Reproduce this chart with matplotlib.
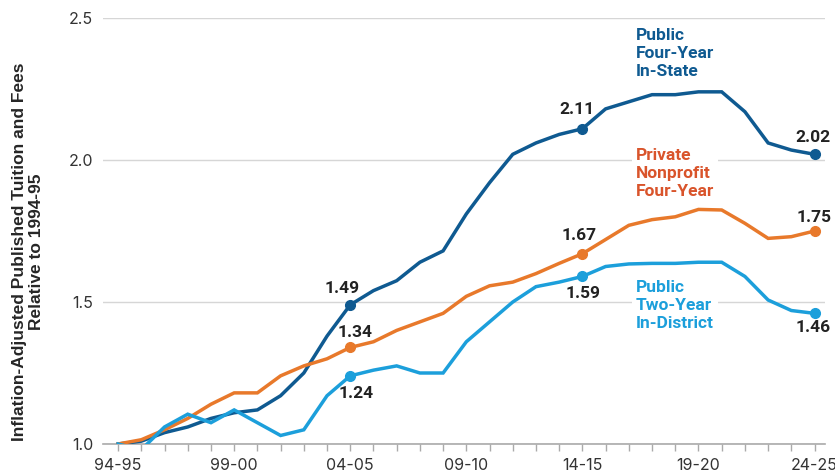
import matplotlib.pyplot as plt

# academic years 94-95 .. 24-25
years = ['%02d-%02d' % (y % 100, (y + 1) % 100) for y in range(1994, 2025)]

public_4yr = [1.00, 1.01, 1.04, 1.06, 1.09, 1.11, 1.12, 1.17, 1.25, 1.38,
              1.49, 1.54, 1.575, 1.64, 1.68, 1.81, 1.92, 2.02, 2.06, 2.09,
              2.11, 2.18, 2.205, 2.23, 2.23, 2.24, 2.24, 2.17, 2.06, 2.035,
              2.02]
private_4yr = [1.00, 1.015, 1.05, 1.09, 1.14, 1.18, 1.18, 1.24, 1.275, 1.30,
               1.34, 1.36, 1.40, 1.43, 1.46, 1.52, 1.557, 1.57, 1.60, 1.636,
               1.67, 1.72, 1.77, 1.79, 1.80, 1.826, 1.824, 1.777, 1.724, 1.73,
               1.75]
public_2yr = [1.00, 0.98, 1.06, 1.105, 1.075, 1.12, 1.075, 1.03, 1.05, 1.17,
              1.24, 1.26, 1.275, 1.25, 1.25, 1.36, 1.43, 1.50, 1.554, 1.57,
              1.59, 1.625, 1.634, 1.636, 1.636, 1.64, 1.64, 1.59, 1.507, 1.47,
              1.46]

marked_idx = [10, 20, 30]

series_names = ['Public\nFour-Year\nIn-State',
                'Private\nNonprofit\nFour-Year',
                'Public\nTwo-Year\nIn-District']
name_y = [2.375, 1.951, 1.489]

line_colors = ['#0f5a91', '#e8792b', '#1c9fdb']
name_colors = ['#0f5a91', '#d9542b', '#1c9fdb']

# label offsets (points) for the marked values
offsets = [
    [(-5.5, 12), (-4, 14), (-1, 12)],
    [(3.5, 11), (-2, 13), (0, 10)],
    [(4, -13), (0.5, -12), (-1, -10)],
]

fig = plt.figure(figsize=(8.35, 4.75), dpi=100)
ax = fig.add_axes([103 / 835, 31 / 475, 722 / 835, 426 / 475])

x = list(range(len(years)))
all_series = [public_4yr, private_4yr, public_2yr]

for s, data in enumerate(all_series):
    ax.plot(x, data, color=line_colors[s], lw=2.5, zorder=3,
            solid_joinstyle='miter')
    ax.plot(marked_idx, [data[i] for i in marked_idx], 'o',
            color=line_colors[s], ms=7, zorder=4)
    for k, i in enumerate(marked_idx):
        ax.annotate('%.2f' % data[i], (i, data[i]), xytext=offsets[s][k],
                    textcoords='offset points', ha='center', va='center',
                    fontsize=12.5, fontweight='bold', family='Roboto',
                    color='#222222', zorder=5)
    ax.text(22.3, name_y[s], series_names[s], ha='left', va='center',
            fontsize=12.5, fontweight='bold', family='Roboto',
            color=name_colors[s], linespacing=1.25, zorder=2,
            bbox=dict(facecolor='white', edgecolor='none', pad=3))

ax.set_xlim(-0.65, 30.45)
ax.set_ylim(1.0, 2.5)

ax.set_xticks(x)
ax.set_xticklabels([y if i % 5 == 0 else '' for i, y in enumerate(years)])
ax.set_yticks([1.0, 1.5, 2.0, 2.5])
ax.set_yticklabels(['1.0', '1.5', '2.0', '2.5'])

ax.tick_params(axis='x', length=5, width=1, color='#aaaaaa', pad=5,
               labelsize=11.5, labelcolor='#333333')
ax.tick_params(axis='y', length=0, pad=7, labelsize=11.5, labelcolor='#333333')
for lab in ax.get_xticklabels() + ax.get_yticklabels():
    lab.set_family('Inter')

ax.grid(axis='y', color='#d6d6d6', lw=1)
ax.set_axisbelow(True)
for side in ['top', 'right', 'left']:
    ax.spines[side].set_visible(False)
ax.spines['bottom'].set_color('#aaaaaa')
ax.spines['bottom'].set_linewidth(1.2)

fig.text(28 / 835, 1 - 252 / 475,
         'Inflation-Adjusted Published Tuition and Fees\nRelative to 1994-95',
         rotation=90, ha='center', va='center', multialignment='center',
         fontsize=12.5, fontweight='bold', family='Liberation Sans',
         color='#262626', linespacing=1.2)

plt.savefig('out.png', dpi=100)
